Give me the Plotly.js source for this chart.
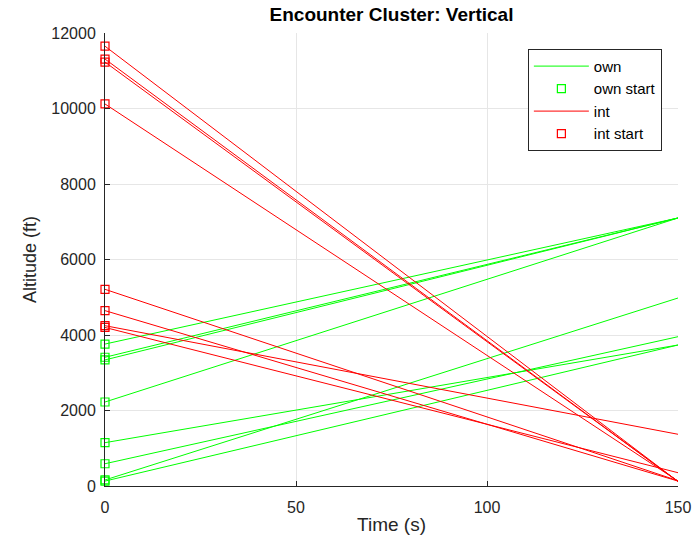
<!DOCTYPE html>
<html>
<head>
<meta charset="utf-8">
<script src="https://cdn.plot.ly/plotly-3.0.1.min.js"></script>
<style>html,body{margin:0;padding:0;background:#fff;}#chart{width:699px;height:539px;}</style>
</head>
<body>
<div id="chart"></div>
<script>
// Time span of every trajectory (s)
const timeStart = 0;
const timeEnd = 150;
// Ownship altitude at start and end (ft)
const ownStartAlt = [3760, 3410, 3340, 2225, 160, 1148, 590, 130];
const ownEndAlt   = [7100, 7100, 7100, 7100, 4980, 3735, 3955, 3735];
// Intruder altitude at start and end (ft)
const intStartAlt = [11650, 11310, 11230, 10120, 5210, 4645, 4247, 4200];
const intEndAlt   = [120, 120, 120, 130, 140, 130, 1370, 352];
// Tick labels
const xTicks = [0, 50, 100, 150];
const yTicks = [0, 2000, 4000, 6000, 8000, 10000, 12000];

const GREEN = '#00ff00', RED = '#ff0000';
const traces = [];
function addGroup(starts, ends, color, name) {
  starts.forEach((s, i) => {
    traces.push({
      x: [timeStart, timeEnd], y: [s, ends[i]], mode: 'lines', type: 'scatter',
      line: {color: color, width: 1}, name: name, legendgroup: name,
      showlegend: i === 0, hoverinfo: 'skip'
    });
  });
}
function addStarts(starts, color, name) {
  traces.push({
    x: starts.map(() => timeStart), y: starts, mode: 'markers', type: 'scatter',
    marker: {symbol: 'square-open', size: 8, color: color, line: {color: color, width: 1.2}},
    name: name, showlegend: true, cliponaxis: false, hoverinfo: 'skip'
  });
}
addGroup(ownStartAlt, ownEndAlt, GREEN, 'own');
addStarts(ownStartAlt, GREEN, 'own start');
addGroup(intStartAlt, intEndAlt, RED, 'int');
addStarts(intStartAlt, RED, 'int start');

const FONT = 'Liberation Sans, Arial, Helvetica, sans-serif';
const layout = {
  width: 699, height: 539,
  margin: {l: 105, r: 21, t: 33, b: 53},
  paper_bgcolor: '#ffffff', plot_bgcolor: '#ffffff',
  font: {family: FONT, size: 16, color: '#262626'},
  title: {text: '<b>Encounter Cluster: Vertical</b>', x: 0.5, xref: 'paper', y: 1, yref: 'container', yanchor: 'top', pad: {t: 8},
          font: {family: FONT, size: 19, color: '#000000'}},
  xaxis: {
    range: [timeStart, timeEnd], tickvals: xTicks, ticktext: xTicks.map(String),
    showgrid: true, gridcolor: '#e6e6e6', gridwidth: 1, zeroline: false,
    showline: true, linecolor: '#262626', linewidth: 1, mirror: false,
    ticks: 'inside', ticklen: 5, tickcolor: '#262626', ticklabelstandoff: 7,
    tickfont: {size: 16, color: '#262626'},
    title: {text: 'Time (s)', font: {size: 19, color: '#262626'}, standoff: 2}
  },
  yaxis: {
    range: [0, 12000], tickvals: yTicks, ticktext: yTicks.map(String),
    showgrid: true, gridcolor: '#e6e6e6', gridwidth: 1, zeroline: false,
    showline: true, linecolor: '#262626', linewidth: 1, mirror: false,
    ticks: 'inside', ticklen: 5, tickcolor: '#262626', ticklabelstandoff: 5,
    tickfont: {size: 16, color: '#262626'},
    title: {text: 'Altitude (ft)', font: {size: 18, color: '#262626'}, standoff: 9}
  },
  legend: {
    x: 0.738, y: 0.965, xanchor: 'left', yanchor: 'top',
    bgcolor: '#ffffff', bordercolor: '#262626', borderwidth: 1,
    font: {family: FONT, size: 15, color: '#000000'},
    itemwidth: 55, tracegroupgap: 0, traceorder: 'normal'
  },
  showlegend: true
};
Plotly.newPlot('chart', traces, layout, {staticPlot: true, displayModeBar: false});
</script>
</body>
</html>
